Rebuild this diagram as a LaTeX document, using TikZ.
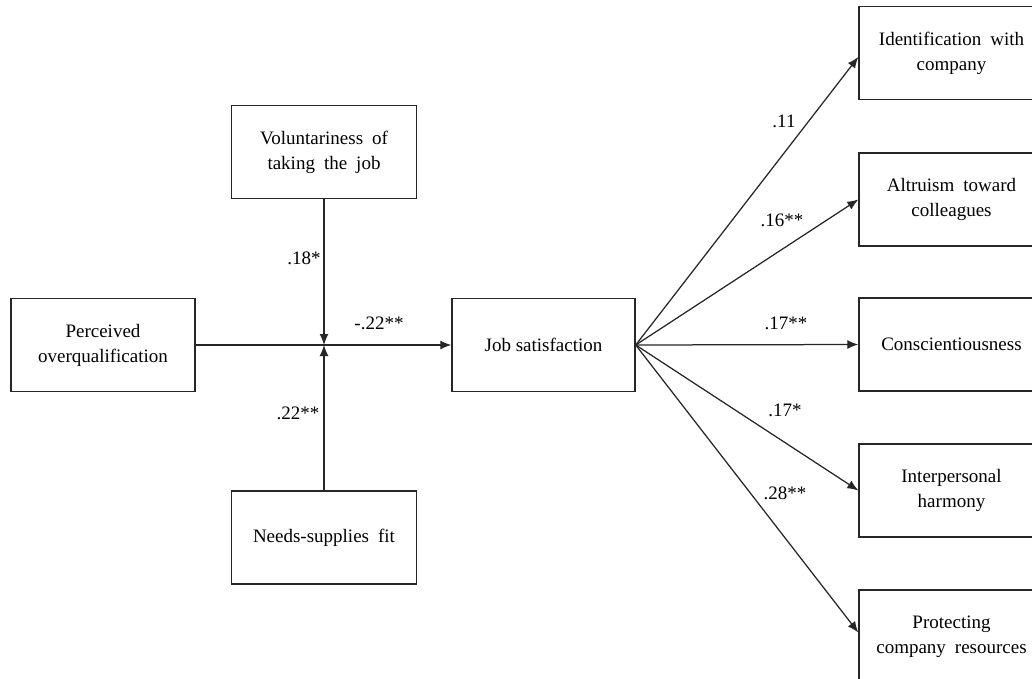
\documentclass[tikz,border=0pt]{standalone}
\usepackage{fontspec}
\setmainfont{Liberation Serif}
\usetikzlibrary{arrows.meta}
\newcommand{\wsp}{\hspace{9pt}}
\begin{document}
\begin{tikzpicture}[x=1pt,y=-1pt,
  box/.style={draw=black!85, line width=1.4pt, rectangle,
    minimum width=185pt, minimum height=93pt, inner sep=0pt,
    align=center, font=\fontsize{19}{25}\selectfont, text=black},
  lbl/.style={inner sep=0pt, font=\fontsize{19}{25}\selectfont, text=black},
  conn/.style={draw=black!85, line width=1.25pt,
    -{Latex[length=11pt,width=9pt]}}
]
\useasboundingbox (0,0) rectangle (1032,679);

% predictor, moderators and mediator
\node[box, minimum width=184pt] (percv) at (103,345) {Perceived\\overqualification};
\node[box] (vol)   at (324,152)   {Voluntariness\wsp of\\taking\wsp the\wsp job};
\node[box] (needs) at (324,537.5) {Needs-supplies\wsp fit};
\node[box, minimum width=183pt] (job) at (543.5,345) {Job satisfaction};
\coordinate (j) at (324,345);

% outcomes
\node[box] (ident)  at (951.5,53)    {Identification\wsp with\\company};
\node[box] (altr)   at (951.5,199.5) {Altruism\wsp toward\\colleagues};
\node[box] (consc)  at (951.5,344.5) {Conscientiousness};
\node[box] (interp) at (951.5,490.5) {Interpersonal\\harmony};
\node[box] (prot)   at (951.5,636.5) {Protecting\\company\wsp resources};

% paths
\draw[conn] (percv.east) -- (job.west);
\draw[conn] (vol.south) -- (j);
\draw[conn] (needs.north) -- (j);

\draw[conn] (job.east) -- ([yshift=-4pt]ident.west);
\draw[conn] (job.east) -- (altr.west);
\draw[conn] (job.east) -- (consc.west);
\draw[conn] (job.east) -- (interp.west);
\draw[conn] (job.east) -- ([yshift=4pt]prot.west);

% coefficients
\node[lbl] (c1) at (304,258) {.18*};
\node[lbl] (c2) at (298,413) {.22**};
\node[lbl] (c3) at (379,323) {-.22**};
\node[lbl] (c4) at (784,121) {.11};
\node[lbl] (c5) at (782,220) {.16**};
\node[lbl] (c6) at (786,323) {.17**};
\node[lbl] (c7) at (785,410) {.17*};
\node[lbl] (c8) at (785,493) {.28**};
\end{tikzpicture}
\end{document}
